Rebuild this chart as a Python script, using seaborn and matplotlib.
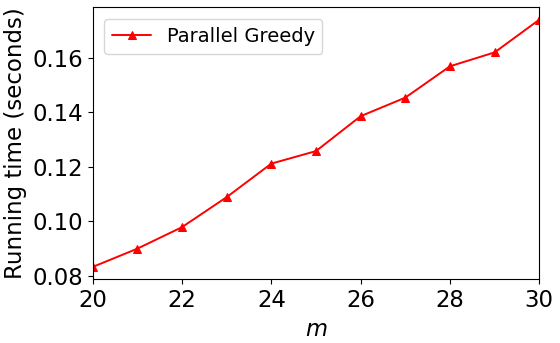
import pandas as pd
import matplotlib
matplotlib.use('Agg')
import matplotlib.pyplot as plt
import seaborn as sns

# values
m_values = [20, 21, 22, 23, 24, 25, 26, 27, 28, 29, 30]
running_time = [0.0832, 0.0899, 0.0978, 0.1088, 0.1211, 0.1257, 0.1385, 0.1453, 0.1568, 0.1619, 0.1739]
series_label = 'Parallel Greedy'
x_ticks = [20, 22, 24, 26, 28, 30]

df = pd.DataFrame({'m': m_values, 'time': running_time})

sns.set_style('ticks', {'text.color': 'black', 'axes.labelcolor': 'black',
                        'xtick.color': 'black', 'ytick.color': 'black',
                        'axes.edgecolor': 'black'})
plt.rcParams['font.family'] = ['DejaVu Sans']

fig, ax = plt.subplots(figsize=(5.6, 3.43), dpi=100)
fig.subplots_adjust(left=0.1655, right=0.963, top=0.9787, bottom=0.1857)

sns.lineplot(data=df, x='m', y='time', ax=ax, color='red', marker='^',
             markersize=5.5, markeredgecolor='red', linewidth=1.4,
             label=series_label)

ax.set_xlim(20, 30)
ax.set_xticks(x_ticks)
ax.set_xlabel('$m$', fontsize=16.3)
ax.set_ylabel('Running time (seconds)', fontsize=16.5)
ax.yaxis.set_label_coords(-0.146, 0.5)
ax.tick_params(labelsize=16.4, length=3.5, width=0.8)
for s in ax.spines.values():
    s.set_linewidth(0.8)
ax.legend(loc='upper left', fontsize=14, frameon=True, borderaxespad=0.6)

fig.savefig('out.png', dpi=100)
